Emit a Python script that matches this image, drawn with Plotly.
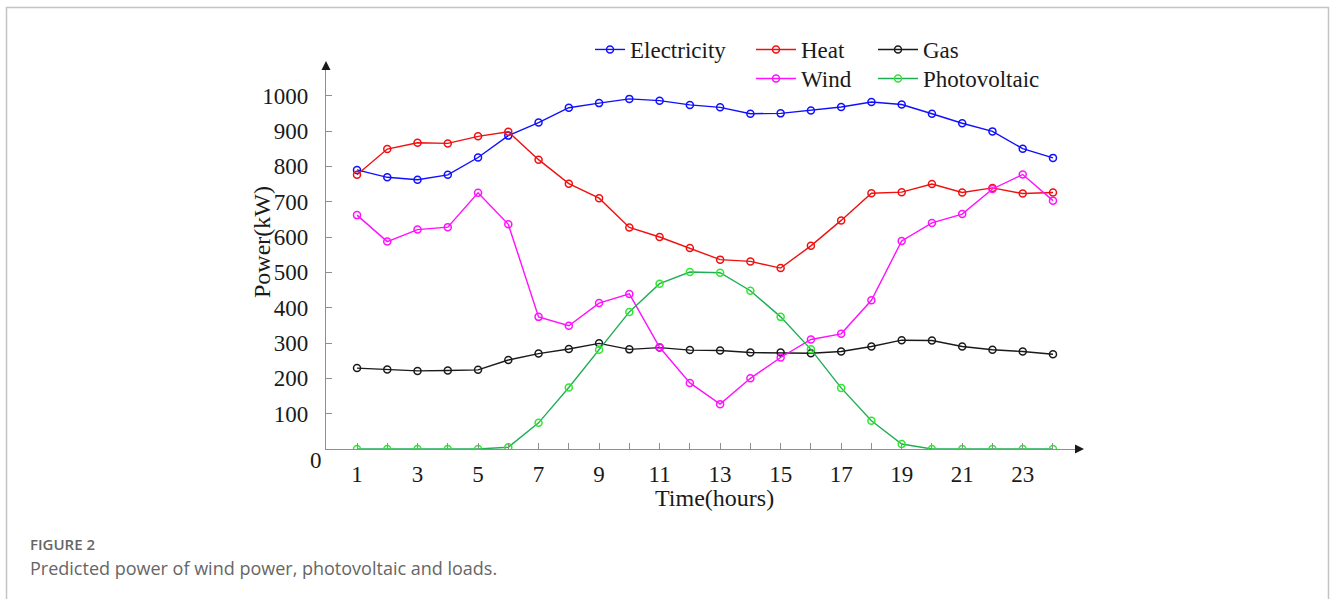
import plotly.graph_objects as go

hours = list(range(1, 25))
electricity = [790, 769, 762, 776, 825, 887, 924, 966, 979, 991, 986, 974,
               967, 949, 950, 958, 968, 982, 975, 949, 922, 899, 850, 824]
heat = [776, 849, 867, 865, 885, 898, 819, 751, 710, 627, 600, 569,
        536, 531, 512, 575, 647, 724, 727, 750, 726, 739, 723, 726]
gas = [229, 225, 221, 222, 224, 252, 270, 283, 299, 282, 287, 280,
       279, 273, 273, 271, 276, 290, 308, 307, 290, 281, 276, 268]
wind = [662, 587, 621, 628, 725, 636, 374, 349, 413, 439, 288, 187,
        127, 200, 259, 310, 326, 421, 589, 640, 665, 736, 777, 703]
photovoltaic = [0, 0, 0, 0, 0, 5, 74, 174, 281, 388, 468, 501,
                499, 448, 374, 282, 173, 80, 14, 0, 0, 0, 0, 0]

x_tick_vals = hours
x_tick_text = [str(h) if h % 2 == 1 else "" for h in hours]
y_tick_vals = [100, 200, 300, 400, 500, 600, 700, 800, 900, 1000]

W, H = 1335, 599
L, R, T, B = 326, 1075, 70, 449
PX_PER_HOUR = 30.26
PX_PER_KW = 0.3533

def px(x):
    return (x - L) / (R - L)

def py(y):
    return (B - y) / (B - T)

SERIF = "Liberation Serif, Times New Roman, serif"
FS = 23

series = [
    ("Electricity", electricity, "#1010ff", "#1010ff", "legend"),
    ("Heat", heat, "#f01010", "#f01010", "legend2"),
    ("Gas", gas, "#1a1a1a", "#1a1a1a", "legend3"),
    ("Wind", wind, "#ff10ff", "#ff10ff", "legend4"),
    ("Photovoltaic", photovoltaic, "#1fae55", "#2ee82e", "legend5"),
]

fig = go.Figure()
for name, vals, lc, mc, lg in series:
    fig.add_trace(go.Scatter(
        x=hours, y=vals, name=name, mode="lines+markers",
        line=dict(color=lc, width=1.4),
        marker=dict(symbol="circle-open", size=7, color=mc, line=dict(width=1.5, color=mc)),
        legend=lg, showlegend=True,
    ))

x_left = 1 - (357 - L) / PX_PER_HOUR
x_right = 1 + (R - 357) / PX_PER_HOUR
y_top = (B - T) / PX_PER_KW

axis_color = "#8f8f8f"
fig.update_xaxes(
    range=[x_left, x_right], showgrid=False, zeroline=False,
    showline=True, linecolor=axis_color, linewidth=1.2,
    ticks="inside", ticklen=6, tickcolor=axis_color, tickwidth=1,
    tickvals=x_tick_vals, ticktext=x_tick_text,
    tickfont=dict(family=SERIF, size=FS, color="#1a1a1a"),
    ticklabelstandoff=4,
)
fig.update_yaxes(
    range=[0, y_top], showgrid=False, zeroline=False,
    showline=True, linecolor=axis_color, linewidth=1.2,
    ticks="inside", ticklen=6, tickcolor=axis_color, tickwidth=1,
    tickvals=y_tick_vals, ticktext=[str(v) for v in y_tick_vals],
    tickfont=dict(family=SERIF, size=FS, color="#1a1a1a"),
    ticklabelstandoff=12,
)

shapes = [
    dict(type="path", xref="paper", yref="paper",
         path=f"M {px(321.5)},{py(70)} L {px(330.5)},{py(70)} L {px(326)},{py(61)} Z",
         fillcolor="#1a1a1a", line=dict(width=0)),
    dict(type="path", xref="paper", yref="paper",
         path=f"M {px(1075)},{py(444.5)} L {px(1075)},{py(453.5)} L {px(1084)},{py(449)} Z",
         fillcolor="#1a1a1a", line=dict(width=0)),
    dict(type="rect", xref="paper", yref="paper",
         x0=px(6.5), y0=py(640), x1=px(1328.5), y1=py(7.5),
         line=dict(color="#c4c4c4", width=1.5), fillcolor="rgba(0,0,0,0)"),
]

annotations = [
    dict(text="0", x=px(316), y=py(460), xref="paper", yref="paper", showarrow=False,
         xanchor="center", yanchor="middle", font=dict(family=SERIF, size=FS, color="#1a1a1a")),
    dict(text="Power(kW)", x=px(262), y=py(242), xref="paper", yref="paper", showarrow=False,
         textangle=-90, xanchor="center", yanchor="middle",
         font=dict(family=SERIF, size=FS + 1, color="#1a1a1a")),
    dict(text="Time(hours)", x=px(714), y=py(498), xref="paper", yref="paper", showarrow=False,
         xanchor="center", yanchor="middle", font=dict(family=SERIF, size=FS + 1, color="#1a1a1a")),
    dict(text="FIGURE 2", x=px(28), y=py(544), xref="paper", yref="paper", showarrow=False,
         xanchor="left", yanchor="middle",
         font=dict(family="Open Sans, sans-serif", size=15, color="#666666", weight=600)),
    dict(text="Predicted power of wind power, photovoltaic and loads.", x=px(28), y=py(568),
         xref="paper", yref="paper", showarrow=False, xanchor="left", yanchor="middle",
         font=dict(family="Open Sans, sans-serif", size=18, color="#666666")),
]

legend_common = dict(
    orientation="v", yanchor="top", xanchor="left", bgcolor="rgba(0,0,0,0)",
    font=dict(family=SERIF, size=FS, color="#1a1a1a"), borderwidth=0,
    tracegroupgap=0, visible=True,
)
ROW1, ROW2 = 28, 57

fig.update_layout(
    width=W, height=H, showlegend=True,
    margin=dict(l=L, r=W - R, t=T, b=H - B, pad=0),
    paper_bgcolor="white", plot_bgcolor="white",
    shapes=shapes, annotations=annotations,
    legend=dict(x=px(590), y=py(ROW1), itemwidth=30, **legend_common),
    legend2=dict(x=px(751), y=py(ROW1), itemwidth=40, **legend_common),
    legend3=dict(x=px(873), y=py(ROW1), itemwidth=40, **legend_common),
    legend4=dict(x=px(751), y=py(ROW2), itemwidth=40, **legend_common),
    legend5=dict(x=px(873), y=py(ROW2), itemwidth=40, **legend_common),
)

fig.write_html("out.html", config={"displayModeBar": False},
               post_script="document.body.style.margin='0';")
